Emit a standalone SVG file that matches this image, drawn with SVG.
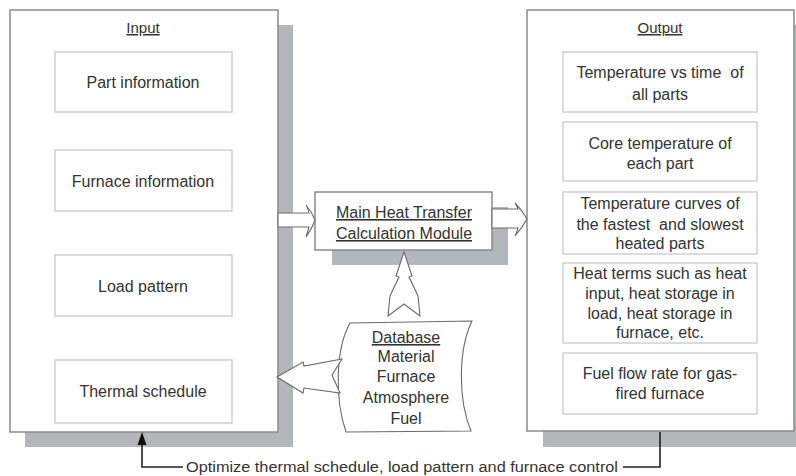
<svg xmlns="http://www.w3.org/2000/svg" width="796" height="476" viewBox="0 0 796 476">
<style>
text{font-family:"Liberation Sans",Arial,sans-serif;font-size:16px;fill:#333;text-anchor:middle}
.shadow{fill:#b3b6ba}
.panel{fill:#fff;stroke:#8a8a8a;stroke-width:1.5}
.inner{fill:#fff;stroke:#c4c4c4;stroke-width:1.2}
.blk{fill:#fff;stroke:#6a6a6a;stroke-width:1.1}
.u{text-decoration:underline}
.fb{fill:none;stroke:#222;stroke-width:1.6}
</style>
<rect width="796" height="476" fill="#fff"/>
<g id="input">
<rect class="shadow" x="25" y="25" width="268" height="422"/>
<rect class="panel" x="10" y="10" width="268" height="422"/>
<text class="u" x="143" y="33" style="font-size:15px">Input</text>
</g>
<g id="part-information"><rect class="inner" x="55" y="52" width="177" height="60"/><text x="143" y="88">Part information</text></g>
<g id="furnace-information"><rect class="inner" x="55" y="150" width="177" height="61"/><text x="143" y="187">Furnace information</text></g>
<g id="load-pattern"><rect class="inner" x="55" y="255" width="177" height="61"/><text x="143" y="292">Load pattern</text></g>
<g id="thermal-schedule"><rect class="inner" x="55" y="360" width="177" height="63"/><text x="143" y="397">Thermal schedule</text></g>
<g id="output">
<rect class="shadow" x="543" y="25" width="260" height="422"/>
<rect class="panel" x="527" y="10" width="267" height="421"/>
<text class="u" x="660" y="33" style="font-size:15px">Output</text>
</g>
<g id="temperature-vs-time"><rect class="inner" x="563" y="52" width="194" height="60"/><text x="660" y="78" xml:space="preserve">Temperature vs time  of</text><text x="660" y="100">all parts</text></g>
<g id="core-temperature"><rect class="inner" x="563" y="122" width="194" height="59"/><text x="660" y="149">Core temperature of</text><text x="660" y="169">each part</text></g>
<g id="temperature-curves"><rect class="inner" x="563" y="192" width="194" height="62"/><text x="660" y="209">Temperature curves of</text><text x="660" y="230" xml:space="preserve">the fastest  and slowest</text><text x="660" y="249">heated parts</text></g>
<g id="heat-terms"><rect class="inner" x="563" y="263" width="194" height="80"/><text x="660" y="279">Heat terms such as heat</text><text x="660" y="299">input, heat storage in</text><text x="660" y="319">load, heat storage in</text><text x="660" y="338">furnace, etc.</text></g>
<g id="fuel-flow-rate"><rect class="inner" x="563" y="353" width="194" height="61"/><text x="660" y="379">Fuel flow rate for gas-</text><text x="660" y="399">fired furnace</text></g>
<g id="main-module">
<rect class="shadow" x="332" y="207" width="176" height="58"/>
<rect class="panel" x="315" y="192" width="177" height="58"/>
<text class="u" x="404" y="218">Main Heat Transfer</text>
<text class="u" x="404" y="239">Calculation Module</text>
</g>
<g id="database">
<path class="blk" d="M350,323 L472,321 C458,350 458,400 471,431 L346,432 C335,400 335,350 350,323 Z" stroke="#999"/>
<text class="u" x="406" y="343">Database</text>
<text x="406" y="362">Material</text>
<text x="406" y="382">Furnace</text>
<text x="406" y="403">Atmosphere</text>
<text x="406" y="424">Fuel</text>
</g>
<g id="connectors">
<path class="blk" d="M278,213 L309,213 Q308,208 306,205 Q312,212 315,220 Q312,229 306,237 Q308,231 309,227 L278,227 Z"/>
<path class="blk" d="M492,209 L518,209 Q517,206 515,203 Q522,210 527,219 Q522,228 515,236 Q517,232 518,228 L492,228 Z"/>
<path class="blk" stroke="#999" d="M404,252 L412,276 L409,277 L418,296 L420,316 L404,304 L388,316 L390,296 L399,277 L396,276 Z"/>
<path class="blk" stroke="#999" d="M277,377 L303,362 L304,366 L342,359 L332,375 L340,393 L304,388 L303,393 Z"/>
<path class="fb" d="M660,432 V467 H623"/>
<path class="fb" d="M183,467 H142 V444"/>
<polygon points="142,432 137.5,445 146.5,445" fill="#111"/>
<text x="186" y="472" style="font-size:15.5px;text-anchor:start" textLength="432" lengthAdjust="spacingAndGlyphs">Optimize thermal schedule, load pattern and furnace control</text>
</g>
</svg>
